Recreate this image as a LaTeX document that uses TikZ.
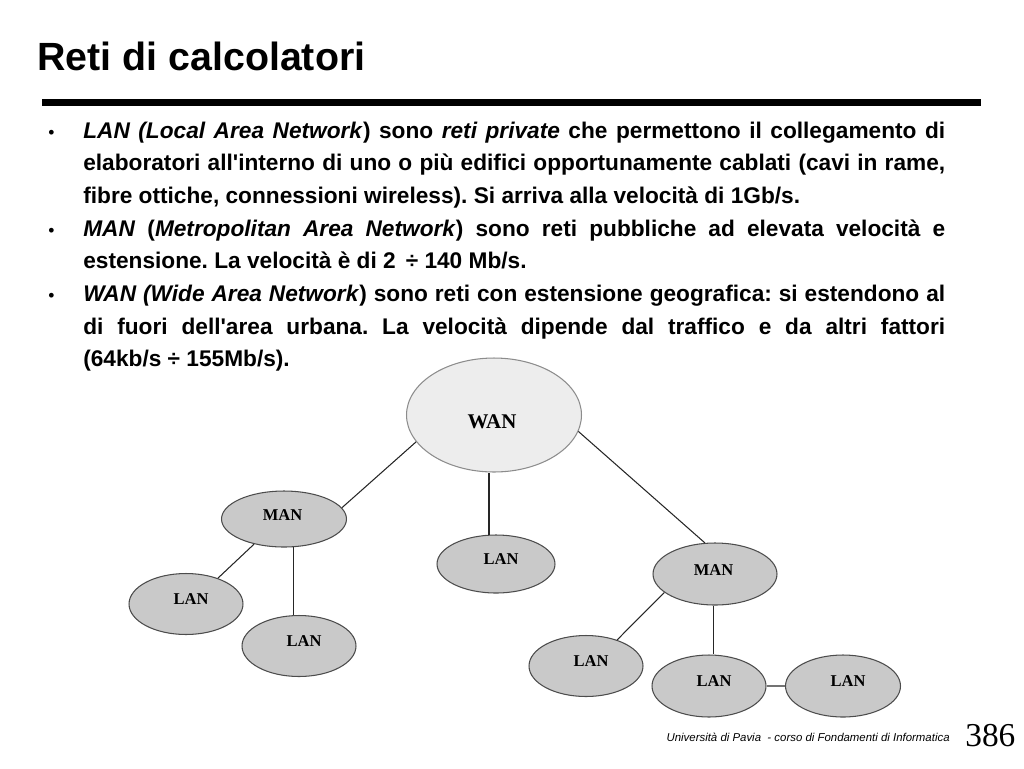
\documentclass[tikz,border=0pt]{standalone}
\usepackage{fontspec}
\setmainfont{Liberation Sans}
\newfontfamily\timesfont{Liberation Serif}
\usetikzlibrary{positioning, shapes.geometric}

\newcommand\voce{\par\noindent\hangindent=0.74cm\hangafter=1\makebox[0.74cm][l]{\hspace{0.04cm}{\mdseries\fontsize{10pt}{10pt}\selectfont\textbullet}}}

\begin{document}
\begin{tikzpicture}[
    x=0.02cm, y=-0.02cm,
    rete/.style={
        ellipse,
        inner sep=0pt,
        line width=0.6pt
    },
    wanbox/.style={
        rete,
        draw=black!45,
        fill=black!7,
        minimum width=3.5cm,
        minimum height=2.28cm
    },
    subnet/.style={
        rete,
        draw=black!70,
        fill=black!21,
        minimum width=2.28cm,
        minimum height=1.22cm
    },
    netlbl/.style={
        font=\timesfont\bfseries\fontsize{9.4pt}{11pt}\selectfont
    },
    lanlbl/.style={netlbl, xshift=0.1cm, yshift=0.1cm},
    manlbl/.style={netlbl, xshift=-0.03cm, yshift=0.08cm},
    link/.style={
        line width=0.6pt,
        draw=black!85
    },
    testo/.style={
        text width=17.98cm,
        align=justify,
        inner sep=0pt,
        font=\bfseries\fontsize{12.9pt}{18.6pt}\selectfont
    }
]
\useasboundingbox (0,0) rectangle (1024,768);

% Titolo e riga
\node[anchor=base west, inner sep=0pt, font=\bfseries\fontsize{22.4pt}{26pt}\selectfont] (titolo) at (37,70) {Reti di calcolatori};
\fill (42,99) rectangle (981,106);

% Testo
\node[testo, anchor=north west] (elenco) at (46,105) {%
\tolerance=10000\hyphenpenalty=10000\frenchspacing
\voce\textit{LAN (Local Area Network}) sono \textit{reti private} che permettono il collegamento di\linebreak
elaboratori all\textquotesingle interno di uno o più edifici opportunamente cablati (cavi in rame,\linebreak
fibre ottiche, connessioni wireless). Si arriva alla velocità di 1Gb/s.
\voce\textit{MAN} (\textit{Metropolitan Area Network}) sono reti pubbliche ad elevata velocità e\linebreak
estensione. La velocità è di 2 \,÷ 140 Mb/s.
\voce\textit{WAN (Wide Area Network}) sono reti con estensione geografica: si estendono al\linebreak
di fuori dell\textquotesingle area urbana. La velocità dipende dal traffico e da altri fattori\linebreak
(64kb/s ÷ 155Mb/s).\par};

% Reti
\node[wanbox, label={[netlbl, font=\timesfont\bfseries\fontsize{11.9pt}{14pt}\selectfont, xshift=-0.04cm, yshift=-0.14cm]center:WAN}] (wan) at (494,415) {};
\node[subnet, minimum width=2.5cm, minimum height=1.12cm, label={[manlbl]center:MAN}] (manL) at (284,519) {};
\node[subnet, minimum width=2.48cm, minimum height=1.24cm, label={[manlbl]center:MAN}] (manR) at (715,574) {};
\node[subnet, minimum width=2.36cm, minimum height=1.16cm, label={[lanlbl]center:LAN}] (lanC) at (496,564) {};
\node[subnet, label={[lanlbl]center:LAN}] (lanA) at (186,604) {};
\node[subnet, label={[lanlbl]center:LAN}] (lanB) at (299,646) {};
\node[subnet, label={[lanlbl]center:LAN}] (lanD) at (586,666) {};
\node[subnet, minimum height=1.24cm, label={[lanlbl]center:LAN}] (lanE) at (709,686) {};
\node[subnet, minimum width=2.3cm, minimum height=1.24cm, label={[lanlbl]center:LAN}] (lanF) at (843,686) {};

% Collegamenti
\draw[link] (wan.199) -- (manL.11);
\draw[link] (wan.-11) -- (manR.108);
\draw[link, line width=1.2pt] (lanC.104) -- (lanC.104 |- wan.south);
\draw[link] (manL.220) -- (lanA.39);
\draw[link] (manL.-72) -- (manL.-72 |- lanB.north);
\draw[link] (manR.200) -- (lanD.40);
\draw[link] (manR.-93) -- (manR.-93 |- lanE.north);
\draw[link, draw=black!55] (lanE) -- (lanF);

% Piede
\node[anchor=base east, inner sep=0pt, font=\itshape\fontsize{6.5pt}{8pt}\selectfont] (piede) at (950,741) {Università di Pavia \ - corso di Fondamenti di Informatica};
\node[anchor=base west, inner sep=0pt, font=\timesfont\fontsize{19pt}{22pt}\selectfont] (pagina) at (965,746) {386};
\end{tikzpicture}
\end{document}
